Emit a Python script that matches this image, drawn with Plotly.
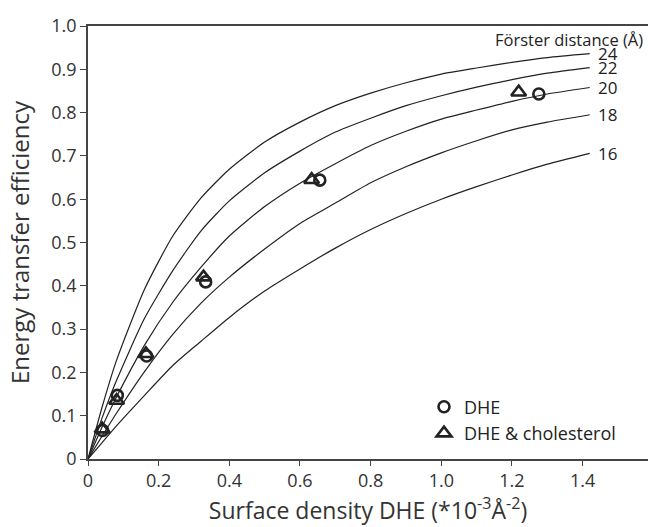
import plotly.graph_objects as go

# ---- data ----
x_grid = [0, 0.04, 0.08, 0.16, 0.24, 0.32, 0.40, 0.5, 0.6, 0.7, 0.8, 0.9, 1.0, 1.1, 1.2, 1.3, 1.42]
curve_24 = [0, 0.120, 0.226, 0.392, 0.515, 0.603, 0.669, 0.732, 0.778, 0.816, 0.845, 0.869, 0.889, 0.903, 0.916, 0.927, 0.936]
curve_22 = [0, 0.095, 0.180, 0.325, 0.435, 0.527, 0.596, 0.661, 0.711, 0.755, 0.787, 0.816, 0.839, 0.859, 0.876, 0.891, 0.904]
curve_20 = [0, 0.074, 0.142, 0.263, 0.362, 0.443, 0.515, 0.583, 0.637, 0.682, 0.724, 0.757, 0.785, 0.806, 0.826, 0.843, 0.858]
curve_18 = [0, 0.053, 0.105, 0.202, 0.288, 0.360, 0.420, 0.485, 0.544, 0.591, 0.638, 0.675, 0.707, 0.735, 0.760, 0.778, 0.795]
curve_16 = [0, 0.038, 0.076, 0.147, 0.216, 0.272, 0.327, 0.388, 0.439, 0.487, 0.530, 0.567, 0.600, 0.629, 0.656, 0.681, 0.706]
curve_labels = ["24", "22", "20", "18", "16"]

dhe_x = [0.041, 0.083, 0.166, 0.333, 0.656, 1.276]
dhe_y = [0.066, 0.147, 0.238, 0.409, 0.644, 0.843]
chol_x = [0.040, 0.081, 0.164, 0.327, 0.633, 1.219]
chol_y = [0.069, 0.135, 0.243, 0.420, 0.645, 0.847]

x_ticks = [0, 0.2, 0.4, 0.6, 0.8, 1.0, 1.2, 1.4]
x_tick_text = ["0", "0.2", "0.4", "0.6", "0.8", "1.0", "1.2", "1.4"]
y_ticks = [0, 0.1, 0.2, 0.3, 0.4, 0.5, 0.6, 0.7, 0.8, 0.9, 1.0]
y_tick_text = ["0", "0.1", "0.2", "0.3", "0.4", "0.5", "0.6", "0.7", "0.8", "0.9", "1.0"]

INK = "#222222"
AX = "#444444"
TXT = "#333333"
FONT = "Open Sans"

fig = go.Figure()
curves = [curve_24, curve_22, curve_20, curve_18, curve_16]
for lab, ys in zip(curve_labels, curves):
    fig.add_trace(go.Scatter(x=x_grid, y=ys, mode="lines", line=dict(color=INK, width=1.2, shape="spline", smoothing=0.6),
                             showlegend=False, hoverinfo="skip"))
    fig.add_annotation(x=x_grid[-1], y=ys[-1], text=lab, showarrow=False, xanchor="left", yanchor="middle",
                       xshift=6, font=dict(family=FONT, size=17, color=INK))

fig.add_trace(go.Scatter(x=dhe_x, y=dhe_y, mode="markers", name="DHE",
                         marker=dict(symbol="circle-open", size=11, color=INK, line=dict(width=2.6, color=INK))))
fig.add_trace(go.Scatter(x=chol_x, y=chol_y, mode="markers", name="DHE &amp; cholesterol",
                         marker=dict(symbol="triangle-up-open", size=13, color=INK, line=dict(width=2.6, color=INK))))

fig.add_annotation(xref="paper", yref="paper", x=1.0, y=0.968, xanchor="right", yanchor="middle",
                   text="Förster distance (Å)", showarrow=False, xshift=-3,
                   font=dict(family=FONT, size=16.5, color=INK))

fig.update_layout(
    width=648, height=527,
    margin=dict(l=88, r=0, t=26, b=68),
    paper_bgcolor="white", plot_bgcolor="white",
    font=dict(family=FONT, size=18, color=TXT),
    legend=dict(x=0.6, y=0.09, xanchor="left", yanchor="middle", bgcolor="rgba(0,0,0,0)",
                font=dict(family=FONT, size=18, color=INK), tracegroupgap=0, itemsizing="trace"),
    xaxis=dict(range=[0, 1.585], tickvals=x_ticks, ticktext=x_tick_text, showgrid=False, zeroline=False,
               showline=True, linecolor=AX, linewidth=1.5, mirror=True, ticks="outside", ticklen=5,
               tickcolor=AX, tickwidth=1.2, tickfont=dict(family=FONT, size=18, color=TXT),
               title=dict(text="Surface density DHE (*10<sup>-3</sup>Å<sup>-2</sup>)", standoff=4,
                          font=dict(family=FONT, size=23, color=TXT))),
    yaxis=dict(range=[0, 1.0], tickvals=y_ticks, ticktext=y_tick_text, showgrid=False, zeroline=False,
               showline=True, linecolor=AX, linewidth=1.5, ticks="outside", ticklen=6,
               tickcolor=AX, tickwidth=1.2, tickfont=dict(family=FONT, size=18, color=TXT),
               title=dict(text="Energy transfer efficiency", standoff=15,
                          font=dict(family=FONT, size=24, color=TXT))),
)

fig.write_html("out.html")
